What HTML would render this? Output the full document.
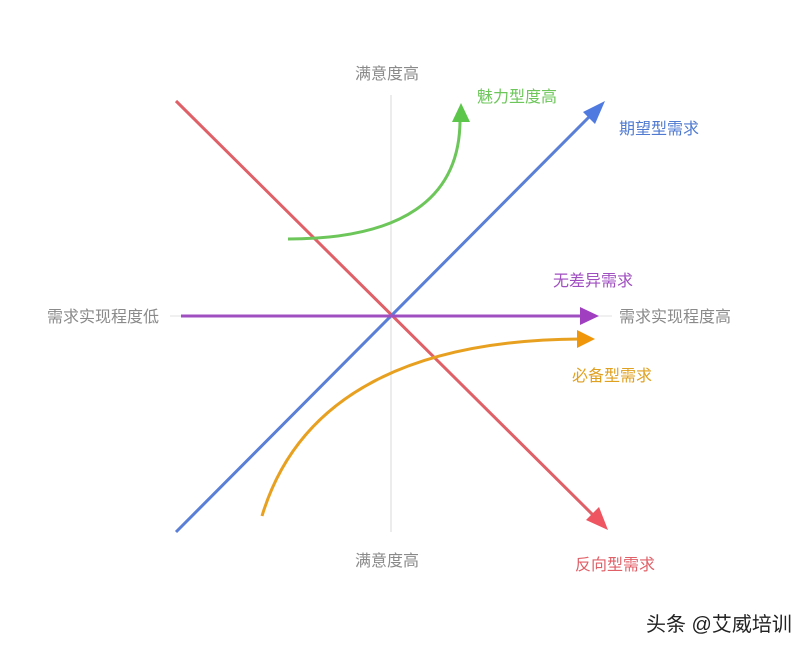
<!DOCTYPE html>
<html><head><meta charset="utf-8"><style>
html,body{margin:0;padding:0;background:#fff;}
svg text{font-family:"Liberation Sans","Noto Sans CJK SC",sans-serif;}
</style></head><body>
<svg width="812" height="650" viewBox="0 0 812 650" xmlns="http://www.w3.org/2000/svg">
<line x1="391" y1="95" x2="391" y2="532" stroke="#d8d8d8" stroke-width="1"/>
<line x1="170" y1="316" x2="612" y2="316" stroke="#e0e0e0" stroke-width="1"/>
<line x1="176" y1="101" x2="594" y2="516" stroke="#e06068" stroke-width="3"/>
<polygon points="608,530 586,520 599,507" fill="#ee5560"/>
<line x1="176" y1="532" x2="592" y2="114" stroke="#5a7fd6" stroke-width="3"/>
<polygon points="605,101 583,112 595,124" fill="#4f7ae0"/>
<line x1="181" y1="316" x2="582" y2="316" stroke="#a04fc0" stroke-width="3"/>
<polygon points="599,316 580,307 580,325" fill="#a040c0"/>
<path d="M288 239 C 400 239, 460 200, 460 120" fill="none" stroke="#6cc65a" stroke-width="3"/>
<polygon points="461,103 452,122 470,122" fill="#5cc64a"/>
<path d="M262 516 C 300 390, 420 340, 580 339" fill="none" stroke="#e8a020" stroke-width="3"/>
<polygon points="595,339 577,330 577,348" fill="#f0960a"/>
<g font-size="16" fill="#8a8a8a">
<text x="355" y="79">满意度高</text>
<text x="355" y="566">满意度高</text>
<text x="47" y="322">需求实现程度低</text>
<text x="619" y="322">需求实现程度高</text>
</g>
<text x="477" y="102" font-size="16" fill="#6cc65a">魅力型度高</text>
<text x="619" y="134" font-size="16" fill="#4f7ad0">期望型需求</text>
<text x="553" y="286" font-size="16" fill="#a04fc0">无差异需求</text>
<text x="572" y="381" font-size="16" fill="#e0a020">必备型需求</text>
<text x="575" y="570" font-size="16" fill="#e06068">反向型需求</text>
<text x="646" y="631" font-size="20" fill="#222">头条 @艾威培训</text>
</svg>
</body></html>
